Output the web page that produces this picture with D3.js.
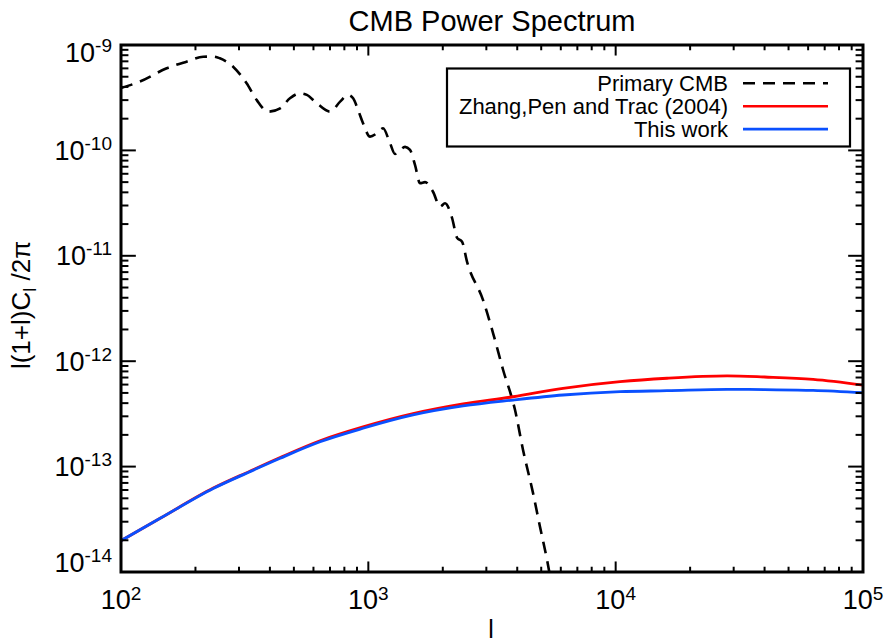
<!DOCTYPE html>
<html>
<head>
<meta charset="utf-8">
<script src="https://cdn.jsdelivr.net/npm/d3@7"></script>
<style>
  body { margin: 0; background: #fff; }
  svg { display: block; font-family: "Liberation Sans", Arial, Helvetica, sans-serif; }
</style>
</head>
<body>
<div id="chart"></div>
<script>
// Multipoles and amplitudes
const ellCMB = [100, 119, 153, 184, 215, 236, 251, 284, 322, 354, 393, 440, 482, 530, 564, 619, 700, 769, 828, 868, 909, 952,
  1016, 1081, 1147, 1224, 1282, 1407, 1474, 1545, 1618, 1696, 1826, 1950, 2042, 2181, 2285, 2393, 2506, 2910, 3193, 3505,
  3919, 4222, 4634, 4946, 5280, 5600];
const primaryCMB = [3.91e-10, 4.49e-10, 6.01e-10, 6.95e-10, 7.74e-10, 7.78e-10, 7.48e-10, 6.22e-10, 4.33e-10, 3.0e-10,
  2.33e-10, 2.51e-10, 3.12e-10, 3.48e-10, 3.36e-10, 2.80e-10, 2.33e-10, 2.9e-10, 3.36e-10, 3.12e-10, 2.42e-10, 1.81e-10,
  1.35e-10, 1.45e-10, 1.62e-10, 1.17e-10, 9.25e-11, 1.08e-10, 1.01e-10, 7.26e-11, 4.88e-11, 5.0e-11, 4.05e-11, 2.92e-11,
  3.15e-11, 2.28e-11, 1.48e-11, 1.36e-11, 8.8e-12, 3.8e-12, 1.85e-12, 8.3e-13, 3.44e-13, 1.44e-13, 5.6e-14, 2.67e-14,
  1.3e-14, 6e-15];

const ellSZ = [100, 144, 236, 332, 440, 638, 952, 1516, 2415, 3847, 6126, 10420, 16140, 28220, 40000, 62850, 100000];
const zhangPenTrac = [1.98e-14, 3.23e-14, 6.25e-14, 9.05e-14, 1.22e-13, 1.76e-13, 2.38e-13, 3.18e-13, 3.93e-13, 4.6e-13,
  5.53e-13, 6.4e-13, 6.89e-13, 7.25e-13, 7.08e-13, 6.73e-13, 5.94e-13];
const thisWork = [1.98e-14, 3.23e-14, 6.2e-14, 8.95e-14, 1.2e-13, 1.72e-13, 2.31e-13, 3.09e-13, 3.76e-13, 4.28e-13,
  4.78e-13, 5.14e-13, 5.25e-13, 5.41e-13, 5.37e-13, 5.29e-13, 5.02e-13];

const xTickExps = [2, 3, 4, 5];
const yTickExps = [-9, -10, -11, -12, -13, -14];
const legendLabels = ['Primary CMB', 'Zhang,Pen and Trac (2004)', 'This work'];

const width = 887, height = 644;
const plotLeft = 121, plotRight = 863, plotTop = 45, plotBottom = 572;

const svg = d3.select('#chart').append('svg')
  .attr('width', width).attr('height', height);

const x = d3.scaleLog().domain([1e2, 1e5]).range([plotLeft, plotRight]);
const y = d3.scaleLog().domain([1e-14, 1e-9]).range([plotBottom, plotTop]);

svg.append('defs').append('clipPath').attr('id', 'plotClip')
  .append('rect').attr('x', plotLeft).attr('y', plotTop)
  .attr('width', plotRight - plotLeft).attr('height', plotBottom - plotTop);

// curves
const line = d3.line()
  .x(d => x(d[0]))
  .y(d => y(d[1]))
  .curve(d3.curveMonotoneX);

const curves = svg.append('g').attr('clip-path', 'url(#plotClip)');
curves.append('path')
  .datum(d3.zip(ellCMB, primaryCMB))
  .attr('d', line)
  .attr('fill', 'none').attr('stroke', '#000')
  .attr('stroke-width', 2.6).attr('stroke-dasharray', '12,8');
curves.append('path')
  .datum(d3.zip(ellSZ, zhangPenTrac))
  .attr('d', line)
  .attr('fill', 'none').attr('stroke', '#ff0000').attr('stroke-width', 2.8);
curves.append('path')
  .datum(d3.zip(ellSZ, thisWork))
  .attr('d', line)
  .attr('fill', 'none').attr('stroke', '#0a50ff').attr('stroke-width', 2.8);

// ticks (inward, on all four sides)
const axes = svg.append('g').attr('stroke', '#000').attr('stroke-width', 2);
const isMajor = v => Math.abs(Math.log10(v) - Math.round(Math.log10(v))) < 1e-9;
const xMajorLen = 0.02 * (plotBottom - plotTop), yMajorLen = 0.02 * (plotRight - plotLeft);

x.ticks().forEach(v => {
  const len = isMajor(v) ? xMajorLen : xMajorLen / 2;
  const px = x(v);
  axes.append('line').attr('x1', px).attr('x2', px).attr('y1', plotBottom).attr('y2', plotBottom - len);
  axes.append('line').attr('x1', px).attr('x2', px).attr('y1', plotTop).attr('y2', plotTop + len);
});
y.ticks().forEach(v => {
  const len = isMajor(v) ? yMajorLen : yMajorLen / 2;
  const py = y(v);
  axes.append('line').attr('y1', py).attr('y2', py).attr('x1', plotLeft).attr('x2', plotLeft + len);
  axes.append('line').attr('y1', py).attr('y2', py).attr('x1', plotRight).attr('x2', plotRight - len);
});

// frame
svg.append('rect')
  .attr('x', plotLeft).attr('y', plotTop)
  .attr('width', plotRight - plotLeft).attr('height', plotBottom - plotTop)
  .attr('fill', 'none').attr('stroke', '#000').attr('stroke-width', 3);

// tick labels
const labelSize = 27, supSize = 19;
xTickExps.forEach(e => {
  const t = svg.append('text')
    .attr('x', x(Math.pow(10, e))).attr('y', 608.5)
    .attr('text-anchor', 'middle')
    .attr('font-size', labelSize);
  t.append('tspan').text('10');
  t.append('tspan').attr('font-size', supSize).attr('dy', -9).text(e);
});
yTickExps.forEach(e => {
  const cy = Math.max(52.5, Math.min(562, y(Math.pow(10, e))));
  const t = svg.append('text')
    .attr('x', 112).attr('y', cy + 9.5)
    .attr('text-anchor', 'end')
    .attr('font-size', labelSize);
  t.append('tspan').text('10');
  t.append('tspan').attr('font-size', supSize).attr('dy', -10).text(e);
});

// titles
svg.append('text')
  .attr('x', (plotLeft + plotRight) / 2).attr('y', 31)
  .attr('text-anchor', 'middle').attr('font-size', 29)
  .text('CMB Power Spectrum');

svg.append('text')
  .attr('x', 491).attr('y', 638)
  .attr('text-anchor', 'middle').attr('font-size', 25)
  .text('l');

const yTitle = svg.append('text')
  .attr('transform', 'translate(30,305) rotate(-90)')
  .attr('text-anchor', 'middle').attr('font-size', 26);
yTitle.append('tspan').text('l(1+l)C');
yTitle.append('tspan').attr('font-size', 18).attr('dy', 6).text('l');
yTitle.append('tspan').attr('dy', -6).text(' /2π');

// legend
const legend = svg.append('g');
legend.append('rect')
  .attr('x', 447).attr('y', 68.5).attr('width', 403).attr('height', 78)
  .attr('fill', '#fff').attr('stroke', '#000').attr('stroke-width', 2.2);
const legendStyles = [
  { color: '#000', dash: '12,8' },
  { color: '#ff0000', dash: null },
  { color: '#0a50ff', dash: null }
];
legendLabels.forEach((name, i) => {
  const ly = 83.3 + i * 22.9;
  legend.append('text')
    .attr('x', 728).attr('y', ly + 7.5)
    .attr('text-anchor', 'end').attr('font-size', 22)
    .text(name);
  legend.append('line')
    .attr('x1', 743).attr('x2', 828).attr('y1', ly).attr('y2', ly)
    .attr('stroke', legendStyles[i].color).attr('stroke-width', 2.6)
    .attr('stroke-dasharray', legendStyles[i].dash);
});
</script>
</body>
</html>
